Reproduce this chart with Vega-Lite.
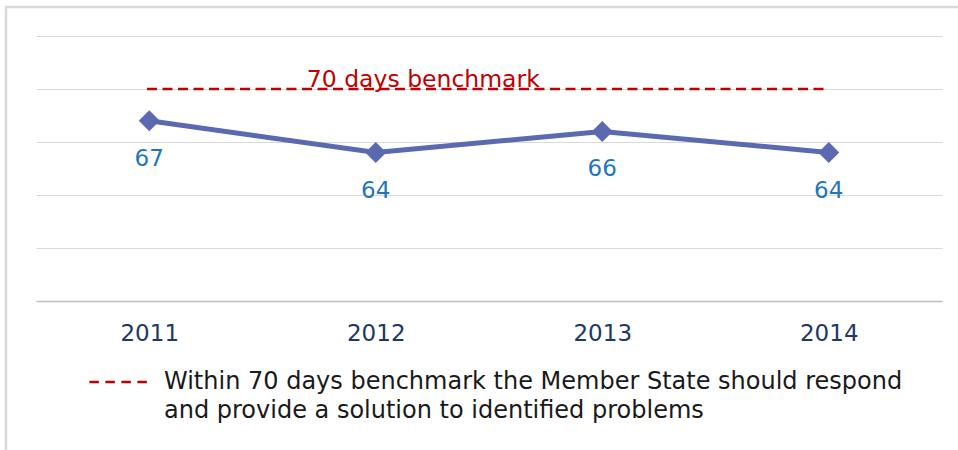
{
  "$schema": "https://vega.github.io/schema/vega-lite/v6.json",
  "width": 906,
  "height": 265,
  "autosize": {"type": "none"},
  "padding": {"left": 36, "top": 36, "right": 16, "bottom": 149},
  "background": "white",
  "config": {
    "view": {"stroke": null},
    "font": "DejaVu Sans"
  },
  "datasets": {
    "series": [
      {"year": 2011, "days": 67},
      {"year": 2012, "days": 64},
      {"year": 2013, "days": 66},
      {"year": 2014, "days": 64}
    ],
    "bench": [
      {"start": 2010.99, "end": 2013.98, "days": 70, "note": "Within 70 days benchmark the Member State should respond|and provide a solution to identified problems"}
    ]
  },
  "layer": [
    {
      "data": {"values": [{}]},
      "mark": {"type": "rect", "filled": false, "stroke": "#d9d9d9", "strokeWidth": 2.5, "clip": false},
      "encoding": {
        "x": {"datum": 2010.3675, "type": "quantitative", "scale": {"domain": [2010.5, 2014.5], "nice": false, "zero": false}},
        "x2": {"datum": 2016},
        "y": {"datum": 77.74, "type": "quantitative"},
        "y2": {"datum": 20}
      }
    },
    {
      "data": {"name": "bench"},
      "mark": {"type": "rule", "strokeDash": [10, 5.5], "strokeWidth": 2.5},
      "encoding": {
        "x": {"field": "start", "type": "quantitative"},
        "x2": {"field": "end"},
        "y": {"field": "days", "type": "quantitative"},
        "stroke": {
          "field": "note",
          "type": "nominal",
          "scale": {"range": ["#C00000"]},
          "legend": {
            "title": null,
            "orient": "none",
            "legendX": 52,
            "legendY": 313,
            "padding": 0,
            "symbolType": "stroke",
            "symbolSize": 4000,
            "symbolStrokeWidth": 2.5,
            "symbolDash": [9.5, 6.5],
            "labelExpr": "split(datum.label, '|')",
            "labelFont": "DejaVu Sans",
            "labelFontSize": 24,
            "labelColor": "#1a1a1a",
            "labelLimit": 2000,
            "labelOffset": 10,
            "labelBaseline": "middle",
            "encode": {"labels": {"update": {"lineHeight": {"value": 29}}}}
          }
        }
      }
    },
    {
      "data": {"values": [{"label": "70 days benchmark", "x": 2012.21, "days": 70}]},
      "mark": {"type": "text", "color": "#C00000", "fontSize": 23.5, "font": "DejaVu Sans", "baseline": "alphabetic", "align": "center", "dy": -2},
      "encoding": {
        "x": {"field": "x", "type": "quantitative"},
        "y": {"field": "days", "type": "quantitative"},
        "text": {"field": "label"}
      }
    },
    {
      "data": {"name": "series"},
      "mark": {"type": "line", "color": "#5B69B0", "strokeWidth": 5},
      "encoding": {
        "x": {
          "field": "year",
          "type": "quantitative",
          "axis": {
            "title": null,
            "values": [2011, 2012, 2013, 2014],
            "format": "d",
            "grid": false,
            "ticks": false,
            "domainColor": "#bfbfbf",
            "domainWidth": 1.5,
            "labelFont": "DejaVu Sans",
            "labelFontSize": 23,
            "labelColor": "#203864",
            "labelPadding": 21,
            "labelFlush": false
          }
        },
        "y": {
          "field": "days",
          "type": "quantitative",
          "scale": {"domain": [50, 75], "nice": false, "zero": false},
          "axis": {
            "title": null,
            "values": [50, 55, 60, 65, 70, 75],
            "labels": false,
            "ticks": false,
            "domain": false,
            "grid": true,
            "gridColor": "#d9d9d9",
            "gridWidth": 1.2
          }
        }
      }
    },
    {
      "data": {"name": "series"},
      "mark": {"type": "point", "shape": "diamond", "filled": true, "color": "#5B69B0", "size": 440, "opacity": 1},
      "encoding": {
        "x": {"field": "year", "type": "quantitative"},
        "y": {"field": "days", "type": "quantitative"}
      }
    },
    {
      "data": {"name": "series"},
      "mark": {"type": "text", "color": "#1F76BC", "fontSize": 23, "font": "DejaVu Sans", "baseline": "middle", "align": "center", "dy": 38},
      "encoding": {
        "x": {"field": "year", "type": "quantitative"},
        "y": {"field": "days", "type": "quantitative"},
        "text": {"field": "days", "type": "quantitative"}
      }
    }
  ]
}
